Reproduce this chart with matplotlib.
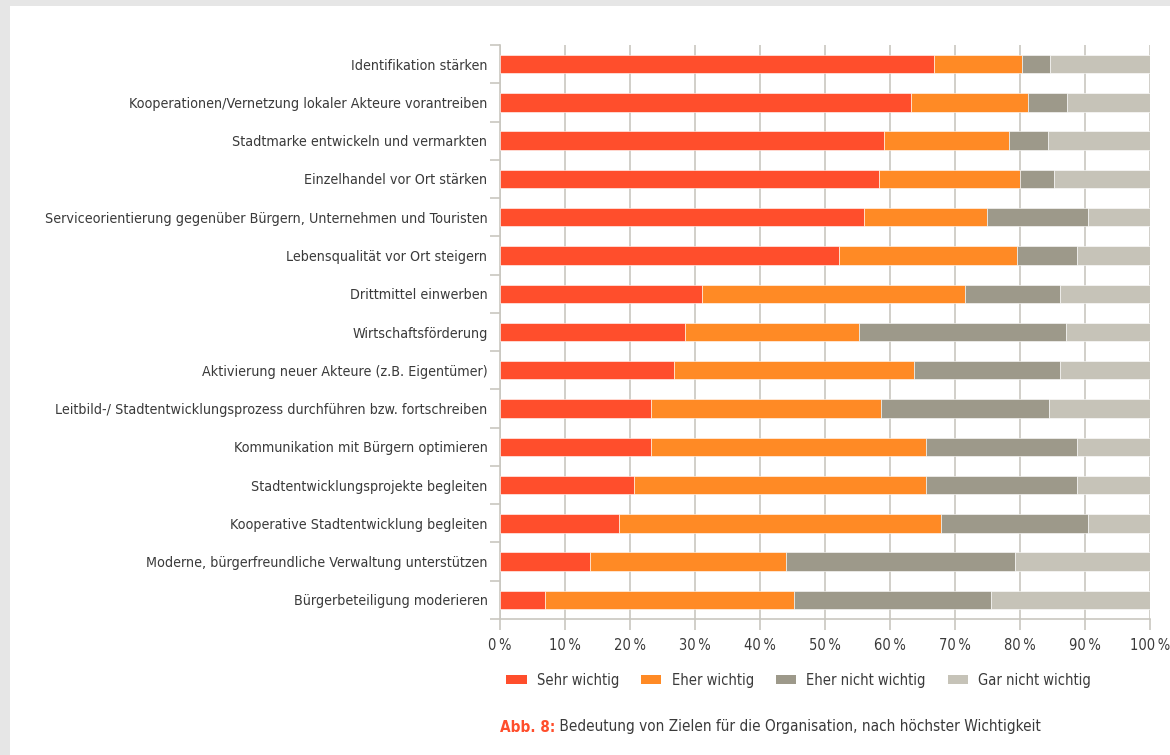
import matplotlib
matplotlib.use("Agg")
import matplotlib.pyplot as plt
from matplotlib.patches import Rectangle, Patch
from matplotlib.ticker import FuncFormatter, MultipleLocator
import numpy as np

plt.rcParams["font.family"] = ["DejaVu Sans"]
plt.rcParams["font.stretch"] = "condensed"

categories = [
    "Identifikation stärken",
    "Kooperationen/Vernetzung lokaler Akteure vorantreiben",
    "Stadtmarke entwickeln und vermarkten",
    "Einzelhandel vor Ort stärken",
    "Serviceorientierung gegenüber Bürgern, Unternehmen und Touristen",
    "Lebensqualität vor Ort steigern",
    "Drittmittel einwerben",
    "Wirtschaftsförderung",
    "Aktivierung neuer Akteure (z.B. Eigentümer)",
    "Leitbild-/ Stadtentwicklungsprozess durchführen bzw. fortschreiben",
    "Kommunikation mit Bürgern optimieren",
    "Stadtentwicklungsprojekte begleiten",
    "Kooperative Stadtentwicklung begleiten",
    "Moderne, bürgerfreundliche Verwaltung unterstützen",
    "Bürgerbeteiligung moderieren",
]

sehr_wichtig = [66.7, 63.3, 59.1, 58.3, 56.0, 52.1, 31.1, 28.5, 26.7, 23.3, 23.3, 20.6, 18.3, 13.8, 6.9]
eher_wichtig = [13.6, 17.9, 19.2, 21.7, 18.9, 27.4, 40.5, 26.7, 37.0, 35.3, 42.2, 44.9, 49.5, 30.2, 38.4]
eher_nicht = [4.3, 6.0, 6.0, 5.2, 15.5, 9.3, 14.6, 31.8, 22.5, 25.8, 23.3, 23.3, 22.6, 35.2, 30.3]
gar_nicht = [15.4, 12.8, 15.7, 14.8, 9.6, 11.2, 13.8, 13.0, 13.8, 15.6, 11.2, 11.2, 9.6, 20.8, 24.4]

series_names = ["Sehr wichtig", "Eher wichtig", "Eher nicht wichtig", "Gar nicht wichtig"]
COLORS = ["#ff4e2c", "#ff8a25", "#9d998a", "#c6c3b8"]
TEXT = "#3a3a3a"
GRID = "#c9c7c0"

fig = plt.figure(figsize=(11.7, 7.55), dpi=100, facecolor="white")

# page border (grey strip top and left)
fig.patches.append(Rectangle((0, 1 - 6 / 755), 1, 6 / 755, transform=fig.transFigure,
                             facecolor="#e6e6e6", edgecolor="none", zorder=-1))
fig.patches.append(Rectangle((0, 0), 10 / 1170, 1, transform=fig.transFigure,
                             facecolor="#e6e6e6", edgecolor="none", zorder=-1))

ax = fig.add_axes([500 / 1170, 1 - 619 / 755, 650 / 1170, 574 / 755])

y = np.arange(len(categories))
left = np.zeros(len(categories))
for vals, name, col in zip([sehr_wichtig, eher_wichtig, eher_nicht, gar_nicht], series_names, COLORS):
    ax.barh(y, vals, left=left, height=0.48, color=col, edgecolor="white",
            linewidth=0.4, label=name, zorder=3)
    left += np.array(vals)

ax.set_xlim(0, 100)
ax.set_ylim(len(categories) - 0.5, -0.5)

ax.set_yticks(y)
ax.set_yticklabels(categories, fontsize=10.3, color=TEXT)
ax.set_yticks(np.arange(len(categories) + 1) - 0.5, minor=True)
ax.tick_params(axis="y", which="major", length=0, pad=9)
ax.tick_params(axis="y", which="minor", length=7, width=1.2, color=GRID)

ax.xaxis.set_major_locator(MultipleLocator(10))
ax.xaxis.set_major_formatter(FuncFormatter(lambda v, p: f"{v:.0f}\u2009%"))
ax.tick_params(axis="x", length=8, width=1.2, color=GRID, labelsize=10.5,
               labelcolor=TEXT, pad=6)

ax.grid(axis="x", color=GRID, linewidth=1.2, zorder=0)
ax.set_axisbelow(True)
for side in ["top", "right"]:
    ax.spines[side].set_visible(False)
for side in ["left", "bottom"]:
    ax.spines[side].set_color(GRID)
    ax.spines[side].set_linewidth(1.2)

handles = [Patch(facecolor=c, edgecolor="none") for c in COLORS]
fig.legend(handles, series_names, loc="center left", bbox_to_anchor=(493 / 1170, 1 - 680 / 755),
           ncol=4, frameon=False, fontsize=10.5, handlelength=1.4, handleheight=0.6,
           handletextpad=0.7, columnspacing=1.5, labelcolor=TEXT)

t1 = fig.text(500 / 1170, 1 - 727 / 755, "Abb. 8:", fontsize=11, color="#ff4e2c",
              fontweight="bold", va="center", ha="left")
fig.canvas.draw()
ax.annotate(" Bedeutung von Zielen für die Organisation, nach höchster Wichtigkeit",
            xy=(1, 0.5), xycoords=t1, va="center", ha="left", fontsize=11, color=TEXT)

fig.savefig("out.png", dpi=100, facecolor="white")
